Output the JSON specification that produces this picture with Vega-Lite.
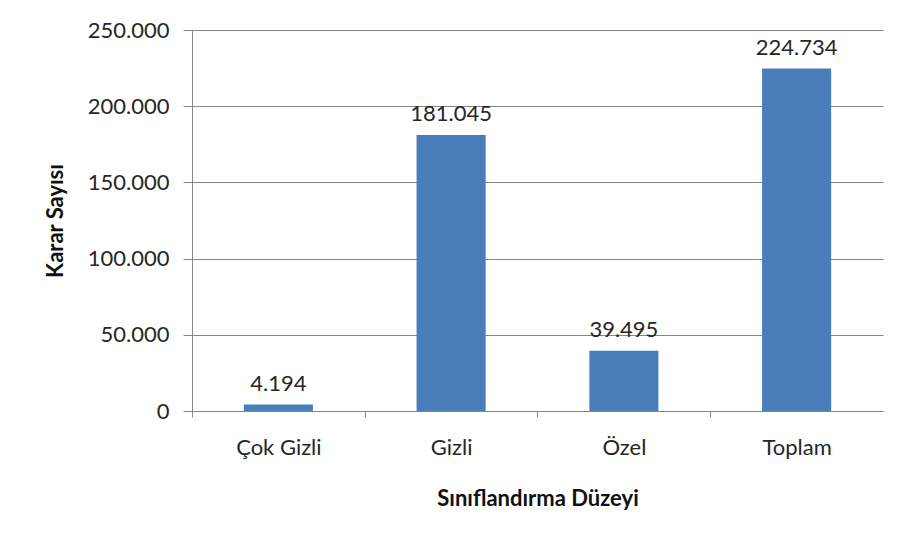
{
  "$schema": "https://vega.github.io/schema/vega-lite/v6.json",
  "width": 691,
  "height": 381,
  "autosize": {"type": "none"},
  "padding": {"left": 192, "top": 30, "right": 23, "bottom": 135},
  "background": "white",
  "config": {
    "locale": {"number": {"decimal": ",", "thousands": ".", "grouping": [3], "currency": ["", " TL"]}},
    "view": {"stroke": null},
    "font": "Lato"
  },
  "data": {
    "values": [
      {"kategori": "Çok Gizli", "sayi": 4194},
      {"kategori": "Gizli", "sayi": 181045},
      {"kategori": "Özel", "sayi": 39495},
      {"kategori": "Toplam", "sayi": 224734}
    ]
  },
  "encoding": {
    "x": {
      "field": "kategori",
      "type": "nominal",
      "sort": null,
      "scale": {"paddingInner": 0.6, "paddingOuter": 0.3},
      "axis": {
        "title": "Sınıflandırma Düzeyi",
        "titleFont": "Lato",
        "titleFontSize": 22,
        "titleFontWeight": "bold",
        "titleColor": "#111111",
        "titlePadding": 30,
        "labelAngle": 0,
        "labelFont": "Lato",
        "labelFontSize": 22,
        "labelColor": "#262626",
        "labelPadding": 20,
        "tickOffset": -86.4,
        "labelOffset": 86.4,
        "tickSize": 6,
        "tickColor": "#868686",
        "domainColor": "#868686",
        "grid": false
      }
    },
    "y": {
      "field": "sayi",
      "type": "quantitative",
      "scale": {"domain": [0, 250000], "nice": false},
      "axis": {
        "title": "Karar Sayısı",
        "titleFont": "Lato",
        "titleFontSize": 22,
        "titleFontWeight": "bold",
        "titleColor": "#111111",
        "titlePadding": 20,
        "values": [0, 50000, 100000, 150000, 200000, 250000],
        "format": ",d",
        "labelFont": "Lato",
        "labelFontSize": 22,
        "labelColor": "#262626",
        "labelPadding": 14,
        "tickSize": 9,
        "tickColor": "#868686",
        "domainColor": "#868686",
        "grid": true,
        "gridColor": "#868686",
        "gridWidth": 1
      }
    }
  },
  "layer": [
    {"mark": {"type": "bar", "color": "#4a7ebb"}},
    {
      "mark": {"type": "text", "baseline": "bottom", "dy": -9, "fontSize": 22, "font": "Lato", "color": "#262626"},
      "encoding": {"text": {"field": "sayi", "type": "quantitative", "format": ",d"}}
    }
  ]
}
